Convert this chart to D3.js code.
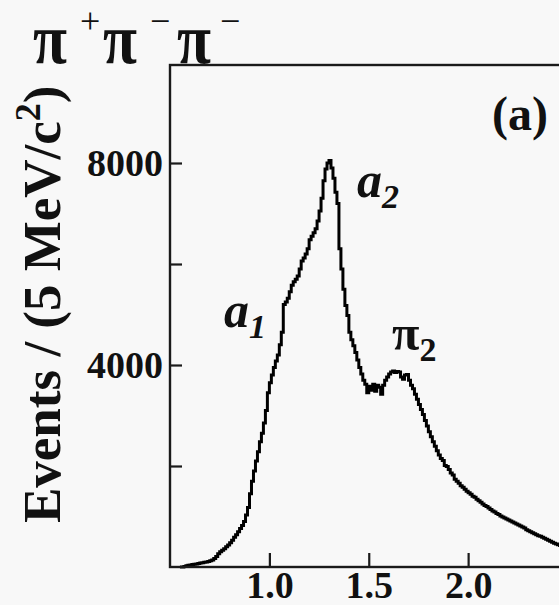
<!DOCTYPE html>
<html>
<head>
<meta charset="utf-8">
<script src="https://d3js.org/d3.v7.min.js"></script>
<style>
  body { margin: 0; background: #f8f8f8; }
  svg { display: block; font-family: "Liberation Serif", "Times New Roman", serif; }
</style>
</head>
<body>
<div id="content"></div>
<script>
// histogram of m(3pi), bins start at massStart, width binWidth (GeV/c^2)
const massStart = 0.55;
const binWidth = 0.01;
const events = [
  0, 0, 10, 25, 35, 40, 50, 55, 60, 70,
  80, 85, 95, 100, 110, 125, 140, 170, 210, 260,
  300, 330, 360, 400, 435, 480, 530, 590, 640, 700,
  760, 820, 900, 1030, 1180, 1450, 1700, 1900, 2100, 2280,
  2480, 2650, 2850, 3100, 3450, 3650, 3800, 3950, 4080, 4200,
  4400, 4650, 5200, 5250, 5320, 5450, 5580, 5650, 5700, 5760,
  5900, 6060, 6120, 6200, 6300, 6480, 6550, 6620, 6700, 6850,
  7050, 7300, 7650, 7880, 8000, 8050, 7900, 7700, 7420, 7200,
  6300, 5900, 5500, 5180, 4980, 4650, 4500, 4380, 4250, 4100,
  3950, 3820, 3700, 3620, 3450, 3580, 3500, 3620, 3480, 3600,
  3560, 3420, 3600, 3700, 3760, 3820, 3860, 3880, 3850, 3870,
  3860, 3760, 3720, 3800, 3810, 3700, 3600, 3530, 3420, 3320,
  3220, 3120, 3020, 2900, 2790, 2680, 2580, 2480, 2390, 2300,
  2220, 2150, 2110, 2010, 1990, 1930, 1860, 1820, 1740, 1700,
  1660, 1610, 1580, 1540, 1500, 1470, 1440, 1400, 1380, 1340,
  1310, 1280, 1250, 1220, 1200, 1170, 1140, 1110, 1090, 1060,
  1040, 1010, 990, 970, 950, 930, 910, 890, 870, 850,
  830, 810, 790, 770, 740, 720, 700, 680, 660, 640,
  620, 610, 590, 570, 550, 530, 510, 490, 470, 455,
  440, 425, 410, 400, 390
];
const xTicks = [1.0, 1.5, 2.0];
const yTicks = [2000, 4000, 6000, 8000];
const yTickLabels = [4000, 8000];

const config = {
  parent: '#content',
  width: 559,
  height: 605,
  margin: {top: 65, left: 170, bottom: 38},
  plotWidth: 397.5
};

class HistChart {
  constructor(config, data) {
    this.config = config;
    this.data = data;
    this.init();
  }

  init() {
    let self = this;
    const c = self.config;
    self.svg = d3.select(c.parent).append('svg')
      .attr('width', c.width)
      .attr('height', c.height);

    self.x = d3.scaleLinear()
      .domain([0.5, 2.5])
      .range([c.margin.left, c.margin.left + c.plotWidth]);
    self.y = d3.scaleLinear()
      .domain([0, 8000])
      .range([c.height - c.margin.bottom, 163]);
  }

  render() {
    let self = this;
    const x = self.x, y = self.y;
    const bottom = y(0), top = self.config.margin.top;

    // step outline, one point per bin edge
    const pts = self.data.map((d, i) => [massStart + i * binWidth, d]);
    pts.push([massStart + self.data.length * binWidth, self.data[self.data.length - 1]]);

    const line = d3.line()
      .x(d => x(d[0]))
      .y(d => y(d[1]))
      .curve(d3.curveStepAfter);

    self.svg.append('path')
      .datum(pts)
      .attr('d', line)
      .attr('fill', 'none')
      .attr('stroke', '#000')
      .attr('stroke-width', 3)
      .attr('stroke-linejoin', 'miter');

    // frame
    self.svg.append('rect')
      .attr('x', x(0.5)).attr('y', top)
      .attr('width', x(2.5) - x(0.5)).attr('height', bottom - top)
      .attr('fill', 'none').attr('stroke', '#1a1a1a').attr('stroke-width', 2.4);

    const yAxis = d3.axisLeft(y)
      .tickValues(yTicks)
      .tickSize(-12)
      .tickPadding(7)
      .tickFormat(d => yTickLabels.includes(d) ? d : '');
    self.svg.append('g')
      .attr('transform', `translate(${x(0.5)},0)`)
      .call(yAxis)
      .call(g => g.select('.domain').remove())
      .call(g => g.selectAll('line').attr('stroke', '#1a1a1a').attr('stroke-width', 2.2))
      .call(g => g.selectAll('text')
        .attr('fill', '#111')
        .style('font-family', '"Liberation Serif", serif')
        .style('font-weight', 'bold')
        .style('font-size', '38px'));

    const xAxis = d3.axisBottom(x)
      .tickValues(xTicks)
      .tickSize(-14)
      .tickPadding(4)
      .tickFormat(d3.format('.1f'));
    self.svg.append('g')
      .attr('transform', `translate(0,${bottom})`)
      .call(xAxis)
      .call(g => g.select('.domain').remove())
      .call(g => g.selectAll('line').attr('stroke', '#1a1a1a').attr('stroke-width', 2.2))
      .call(g => g.selectAll('text')
        .attr('fill', '#111')
        .style('font-family', '"Liberation Serif", serif')
        .style('font-weight', 'bold')
        .style('font-size', '38px'));

    // y title
    const yt = self.svg.append('text')
      .attr('transform', 'translate(60,523) rotate(-90)')
      .attr('fill', '#111')
      .style('font-weight', 'bold')
      .style('font-size', '53px');
    yt.append('tspan').text('Events / (5 MeV/c');
    yt.append('tspan').attr('dy', -20).style('font-size', '36px').text('2');
    yt.append('tspan').attr('dy', 20).text(')');

    // channel title
    const title = self.svg.append('g').attr('fill', '#111');
    [[33, '\u03c0'], [103, '\u03c0'], [177, '\u03c0']].forEach(p => {
      title.append('text').attr('x', p[0]).attr('y', 63)
        .attr('textLength', 34).attr('lengthAdjust', 'spacingAndGlyphs')
        .style('font-weight', 'bold').style('font-size', '72px').text(p[1]);
    });
    [[80, '+'], [150, '\u2212'], [220, '\u2212']].forEach(p => {
      title.append('text').attr('x', p[0]).attr('y', 33)
        .style('font-size', '36px').text(p[1]);
    });

    // panel label
    self.svg.append('text')
      .attr('x', 520).attr('y', 130)
      .attr('text-anchor', 'middle')
      .attr('fill', '#111')
      .style('font-weight', 'bold')
      .style('font-size', '48px')
      .text('(a)');

    // resonance labels
    const lab = (px, py, main, sub, italic) => {
      const t = self.svg.append('text')
        .attr('x', px).attr('y', py)
        .attr('fill', '#111')
        .style('font-weight', 'bold')
        .style('font-style', italic ? 'italic' : 'normal')
        .style('font-size', '50px');
      t.append('tspan').text(main);
      t.append('tspan').attr('dy', 11).style('font-size', '34px').text(sub);
    };
    lab(357, 197, 'a', '2', true);
    lab(224, 327, 'a', '1', true);
    lab(392, 350, '\u03c0', '2', false);
  }
}

const chart = new HistChart(config, events);
chart.render();
</script>
</body>
</html>
